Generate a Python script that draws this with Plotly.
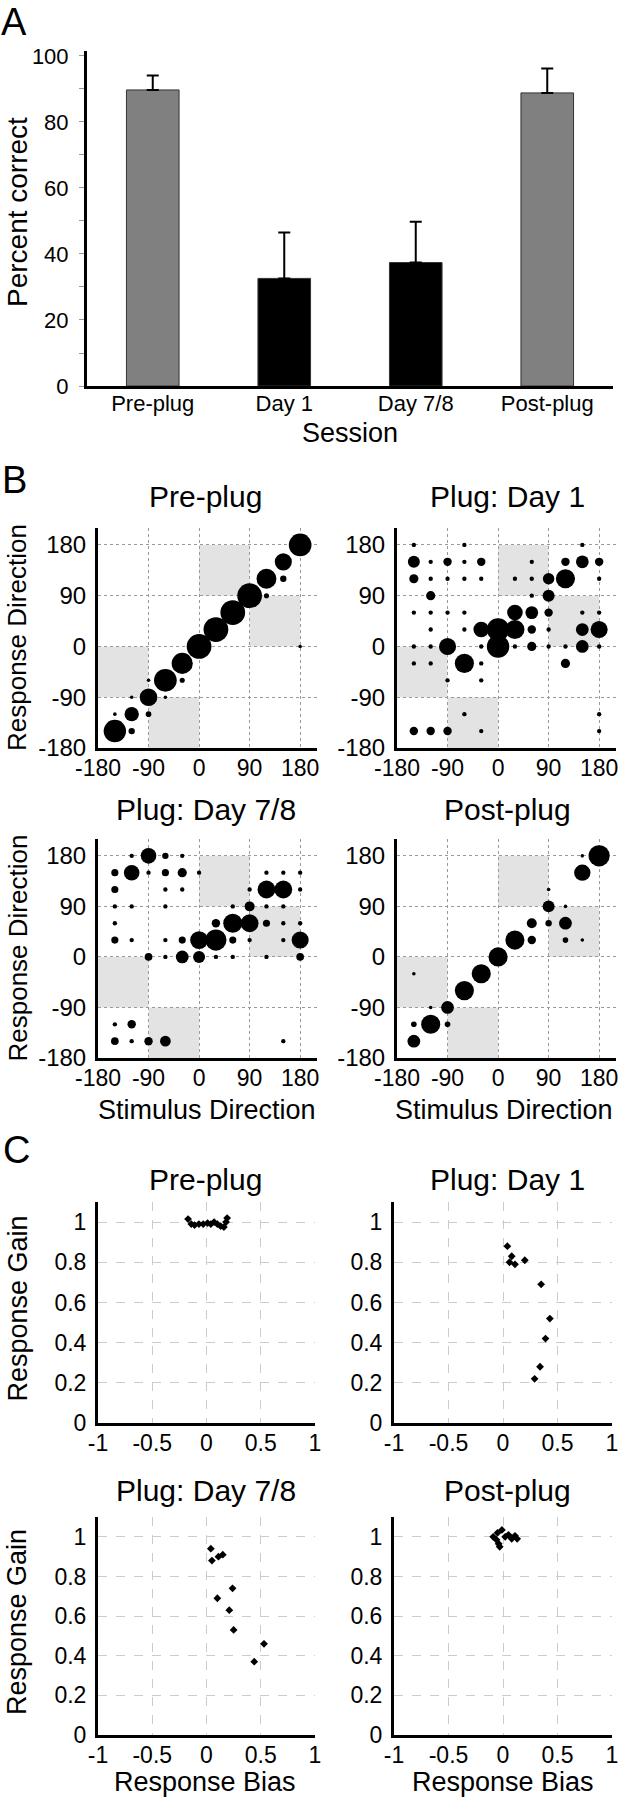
import plotly.graph_objects as go

W, H = 621, 1800
def fx(p): return p / W
def fy(p): return 1 - p / H

FONT = "Liberation Sans, Arial, Helvetica, sans-serif"

# ---------------- Panel A data ----------------
sessions = ["Pre-plug", "Day 1", "Day 7/8", "Post-plug"]
percent_correct = [89.7, 32.6, 37.4, 88.8]
error_upper = [4.4, 13.9, 12.4, 7.4]
bar_colors = ["#808080", "#000000", "#000000", "#808080"]
pct_ticks = [0, 10, 20, 30, 40, 50, 60, 70, 80, 90, 100]
pct_labels = ["0", "", "20", "", "40", "", "60", "", "80", "", "100"]

panel_titles = ["Pre-plug", "Plug: Day 1", "Plug: Day 7/8", "Post-plug"]

# ---------------- Panel B data ----------------
direction_ticks = [-180, -90, 0, 90, 180]
direction_labels = ["-180", "-90", "0", "90", "180"]
# shaded squares: (x0, x1, y0, y1)
shaded_regions = [(-180, -90, -90, 0), (-90, 0, -180, -90), (0, 90, 90, 180), (90, 180, 0, 90)]

# (stimulus direction, response direction, proportion of trials)
pre_plug_bubbles = [
    (180, 180, 0.89), (180, 0, 0.14), (150, 150, 0.67), (150, 120, 0.25),
    (120, 120, 0.78), (120, 90, 0.20), (90, 90, 0.97), (60, 60, 0.97),
    (30, 30, 0.97), (0, 0, 0.97), (-30, -30, 0.83), (-30, -60, 0.20),
    (-60, -60, 0.89), (-60, -90, 0.14), (-90, -60, 0.14), (-90, -90, 0.69),
    (-90, -120, 0.22), (-120, -90, 0.14), (-120, -120, 0.56), (-120, -150, 0.25),
    (-150, -120, 0.14), (-150, -150, 0.88),
]
day1_bubbles = [
    (-150, 180, 0.17), (-60, 180, 0.17), (150, 180, 0.17),
    (-150, 150, 0.47), (-120, 150, 0.17), (-90, 150, 0.33), (-60, 150, 0.17),
    (-30, 150, 0.33), (60, 150, 0.17), (120, 150, 0.33), (150, 150, 0.50), (180, 150, 0.33),
    (-150, 120, 0.36), (-120, 120, 0.17), (-90, 120, 0.17), (-60, 120, 0.17),
    (-30, 120, 0.17), (30, 120, 0.17), (60, 120, 0.17), (90, 120, 0.45),
    (120, 120, 0.75), (180, 120, 0.17),
    (-120, 90, 0.36), (60, 90, 0.17), (90, 90, 0.47),
    (-150, 60, 0.17), (-120, 60, 0.17), (-90, 60, 0.17), (-60, 60, 0.17),
    (30, 60, 0.61), (60, 60, 0.50), (90, 60, 0.33), (150, 60, 0.17), (180, 60, 0.17),
    (-120, 30, 0.17), (-60, 30, 0.17), (-30, 30, 0.61), (0, 30, 0.88), (30, 30, 0.75),
    (60, 30, 0.33), (90, 30, 0.17), (150, 30, 0.50), (180, 30, 0.67),
    (-150, 0, 0.17), (-120, 0, 0.17), (-90, 0, 0.67), (-30, 0, 0.17), (0, 0, 0.88),
    (30, 0, 0.17), (60, 0, 0.36), (90, 0, 0.17), (120, 0, 0.17), (150, 0, 0.50), (180, 0, 0.17),
    (-150, -30, 0.17), (-120, -30, 0.17), (-60, -30, 0.75), (-30, -30, 0.17), (120, -30, 0.36),
    (-90, -60, 0.17), (-30, -60, 0.17),
    (-60, -120, 0.17), (180, -120, 0.17),
    (-150, -150, 0.33), (-120, -150, 0.33), (-90, -150, 0.33), (-30, -150, 0.17), (180, -150, 0.17),
]
day78_bubbles = [
    (-120, 180, 0.17), (-90, 180, 0.61), (-60, 180, 0.25), (-30, 180, 0.17),
    (-150, 150, 0.28), (-120, 150, 0.61), (-90, 150, 0.17), (-60, 150, 0.28),
    (-30, 150, 0.36), (0, 150, 0.17), (120, 150, 0.17), (150, 150, 0.17), (180, 150, 0.17),
    (-150, 120, 0.28), (-60, 120, 0.17), (-30, 120, 0.17), (90, 120, 0.17),
    (120, 120, 0.70), (150, 120, 0.70), (180, 120, 0.17),
    (-150, 90, 0.17), (-120, 90, 0.17), (-60, 90, 0.17), (60, 90, 0.17),
    (90, 90, 0.39), (120, 90, 0.17), (150, 90, 0.17),
    (-150, 60, 0.17), (30, 60, 0.33), (60, 60, 0.75), (90, 60, 0.70),
    (120, 60, 0.28), (150, 60, 0.17), (180, 60, 0.17),
    (-150, 30, 0.28), (-120, 30, 0.17), (-60, 30, 0.17), (-30, 30, 0.28), (0, 30, 0.70),
    (30, 30, 0.83), (60, 30, 0.28), (90, 30, 0.17), (150, 30, 0.17), (180, 30, 0.67),
    (-90, 0, 0.30), (-60, 0, 0.17), (-30, 0, 0.50), (0, 0, 0.47), (30, 0, 0.17),
    (60, 0, 0.17), (120, 0, 0.17), (180, 0, 0.30),
    (-150, -120, 0.17), (-120, -120, 0.33),
    (-150, -150, 0.30), (-120, -150, 0.17), (-90, -150, 0.33), (-60, -150, 0.42), (150, -150, 0.17),
]
post_plug_bubbles = [
    (180, 180, 0.83), (150, 180, 0.14), (150, 150, 0.64), (90, 120, 0.14),
    (90, 90, 0.47), (120, 90, 0.14), (60, 60, 0.39), (90, 60, 0.25), (120, 60, 0.50),
    (30, 30, 0.75), (60, 30, 0.33), (120, 30, 0.22), (150, 30, 0.14),
    (0, 0, 0.75), (-30, -30, 0.75), (-150, -30, 0.14), (-60, -60, 0.75),
    (-90, -90, 0.50), (-120, -90, 0.14), (-150, -120, 0.22), (-120, -120, 0.75),
    (-90, -120, 0.22), (-150, -150, 0.50),
]
bubble_sets = [pre_plug_bubbles, day1_bubbles, day78_bubbles, post_plug_bubbles]

# ---------------- Panel C data ----------------
bias_ticks = [-1, -0.5, 0, 0.5, 1]
bias_labels = ["-1", "-0.5", "0", "0.5", "1"]
gain_ticks = [0, 0.2, 0.4, 0.6, 0.8, 1]
gain_labels = ["0", "0.2", "0.4", "0.6", "0.8", "1"]

pre_bias = [-0.17, -0.14, -0.11, -0.07, -0.03, 0.01, 0.04, 0.07, 0.10, 0.13, 0.16, 0.18, 0.19]
pre_gain = [1.015, 0.99, 0.985, 0.99, 0.99, 0.995, 0.99, 1.0, 0.99, 0.98, 0.975, 1.0, 1.02]
day1_bias = [0.04, 0.08, 0.06, 0.11, 0.20, 0.35, 0.43, 0.39, 0.34, 0.29]
day1_gain = [0.88, 0.83, 0.80, 0.79, 0.81, 0.69, 0.52, 0.42, 0.28, 0.22]
day78_bias = [0.04, 0.05, 0.11, 0.15, 0.24, 0.10, 0.21, 0.25, 0.53, 0.44]
day78_gain = [0.94, 0.88, 0.90, 0.91, 0.74, 0.69, 0.63, 0.53, 0.46, 0.37]
post_bias = [-0.09, -0.06, -0.04, -0.03, -0.05, -0.01, 0.02, 0.05, 0.08, 0.11, 0.13]
post_gain = [1.00, 0.985, 0.965, 0.95, 1.02, 1.035, 1.00, 1.01, 0.99, 1.005, 0.99]
gain_sets = [(pre_bias, pre_gain), (day1_bias, day1_gain), (day78_bias, day78_gain), (post_bias, post_gain)]

# ---------------- layout geometry (pixels) ----------------
B_X = [(98, 317), (397, 616)]
B_Y = [(748, 528), (1058, 839)]
C_X = [(98, 315), (394, 612)]
C_Y = [(1423, 1202), (1735, 1517)]

fig = go.Figure()

# Panel A
fig.add_trace(go.Bar(
    x=sessions, y=percent_correct, width=0.4,
    marker=dict(color=bar_colors, line=dict(color="#333333", width=1)),
    error_y=dict(type="data", symmetric=False, array=error_upper,
                 arrayminus=[0] * len(error_upper), color="black", thickness=2, width=6),
    xaxis="x", yaxis="y", showlegend=False,
))

layout = dict(
    width=W, height=H, autosize=False,
    margin=dict(l=0, r=0, t=0, b=0, pad=0),
    paper_bgcolor="white", plot_bgcolor="white",
    font=dict(family=FONT, color="black"),
    showlegend=False,
    xaxis=dict(domain=[fx(87), fx(613)], anchor="y", range=[-0.5, 3.5], automargin=False,
               showline=True, linewidth=3, linecolor="black", ticks="",
               tickfont=dict(size=22), showgrid=False, zeroline=False,
               ticklabelstandoff=-4, ticklabeloverflow="allow"),
    yaxis=dict(domain=[fy(386), fy(51)], anchor="x", range=[0, 101.5], automargin=False,
               tickvals=pct_ticks, ticktext=pct_labels,
               showline=True, linewidth=3, linecolor="black",
               ticks="outside", ticklen=5, tickcolor="#999999", tickwidth=1,
               tickfont=dict(size=22), showgrid=False, zeroline=False,
               ticklabelstandoff=6, ticklabeloverflow="allow"),
)

shapes = []
annotations = []

idx = 2
for k in range(4):
    r, c = divmod(k, 2)
    xa, ya = f"xaxis{idx}", f"yaxis{idx}"
    xr, yr = f"x{idx}", f"y{idx}"
    layout[xa] = dict(domain=[fx(B_X[c][0]), fx(B_X[c][1])], anchor=yr, range=[-180, 210],
                      automargin=False, ticklabeloverflow="allow",
                      tickvals=direction_ticks, ticktext=direction_labels,
                      showline=True, linewidth=3, linecolor="black",
                      ticks="", tickfont=dict(size=23), showgrid=True, gridcolor="#9a9a9a",
                      griddash="dot", gridwidth=1, zeroline=False, ticklabelstandoff=-3)
    layout[ya] = dict(domain=[fy(B_Y[r][0]), fy(B_Y[r][1])], anchor=xr, range=[-180, 210],
                      automargin=False, ticklabeloverflow="allow",
                      tickvals=direction_ticks, ticktext=direction_labels,
                      showline=True, linewidth=3, linecolor="black",
                      ticks="", tickfont=dict(size=24), showgrid=True, gridcolor="#9a9a9a",
                      griddash="dot", gridwidth=1, zeroline=False, ticklabelstandoff=4)
    for (x0, x1, y0, y1) in shaded_regions:
        shapes.append(dict(type="rect", xref=xr, yref=yr, x0=x0, x1=x1, y0=y0, y1=y1,
                           fillcolor="#e3e3e3", line=dict(width=0), layer="below"))
    data = bubble_sets[k]
    fig.add_trace(go.Scatter(
        x=[d[0] for d in data], y=[d[1] for d in data], mode="markers",
        marker=dict(size=[d[2] for d in data], sizemode="diameter", sizeref=1 / 25.5,
                    color="black", opacity=1, line=dict(width=0)),
        xaxis=xr, yaxis=yr, showlegend=False, cliponaxis=False,
    ))
    idx += 1

for k in range(4):
    r, c = divmod(k, 2)
    xa, ya = f"xaxis{idx}", f"yaxis{idx}"
    xr, yr = f"x{idx}", f"y{idx}"
    layout[xa] = dict(domain=[fx(C_X[c][0]), fx(C_X[c][1])], anchor=yr, range=[-1, 1],
                      automargin=False, ticklabeloverflow="allow",
                      tickvals=bias_ticks, ticktext=bias_labels,
                      showline=True, linewidth=3, linecolor="black",
                      ticks="", tickfont=dict(size=23), showgrid=True, gridcolor="#cccccc",
                      griddash="dash", gridwidth=1, zeroline=False, ticklabelstandoff=-3)
    layout[ya] = dict(domain=[fy(C_Y[r][0]), fy(C_Y[r][1])], anchor=xr, range=[0, 1.1],
                      automargin=False, ticklabeloverflow="allow",
                      tickvals=gain_ticks, ticktext=gain_labels,
                      showline=True, linewidth=3, linecolor="black",
                      ticks="", tickfont=dict(size=23), showgrid=True, gridcolor="#cccccc",
                      griddash="dash", gridwidth=1, zeroline=False, ticklabelstandoff=4)
    bx, gy = gain_sets[k]
    fig.add_trace(go.Scatter(
        x=bx, y=gy, mode="markers",
        marker=dict(symbol="diamond", size=6, color="black", opacity=1, line=dict(width=0)),
        xaxis=xr, yaxis=yr, showlegend=False, cliponaxis=False,
    ))
    idx += 1

def text(t, x, y, size, angle=0):
    annotations.append(dict(text=t, x=fx(x), y=fy(y), xref="paper", yref="paper",
                            showarrow=False, xanchor="center", yanchor="middle",
                            textangle=angle, font=dict(size=size, family=FONT, color="black")))

# panel letters
text("A", 14, 22, 38)
text("B", 14, 480, 38)
text("C", 16, 1150, 38)

# Panel A axis titles
text("Percent correct", 18, 212, 28, -90)
text("Session", 350, 433, 27)

# Panel B titles
B_title_y = [497, 810]
B_title_x = [206, 507]
for k in range(4):
    r, c = divmod(k, 2)
    text(panel_titles[k], B_title_x[c], B_title_y[r], 30)
for r in range(2):
    text("Response Direction", 17, (B_Y[r][0] + B_Y[r][1]) / 2, 26, -90)
for c in range(2):
    text("Stimulus Direction", [207, 504][c], 1110, 27)

# Panel C titles
C_title_y = [1179, 1490]
for k in range(4):
    r, c = divmod(k, 2)
    text(panel_titles[k], B_title_x[c], C_title_y[r], 30)
for r in range(2):
    text("Response Gain", 17, (C_Y[r][0] + C_Y[r][1]) / 2 - 4, 27, -90)
for c in range(2):
    text("Response Bias", [205, 503][c], 1782, 27)

layout["shapes"] = shapes
layout["annotations"] = annotations
fig.update_layout(**layout)

fig.write_html("out.html", config={"displayModeBar": False},
               post_script="document.body.style.margin='0px';")
